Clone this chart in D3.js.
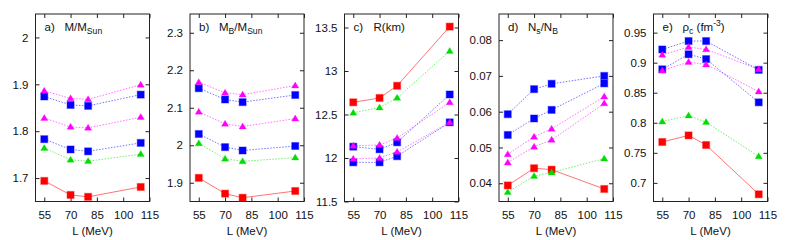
<!DOCTYPE html>
<html><head><meta charset="utf-8">
<script src="https://cdn.jsdelivr.net/npm/d3@7"></script>
<style>body{margin:0;background:#fff}svg{display:block}text{font-family:"Liberation Sans",Arial,sans-serif;fill:#111}</style>
</head><body><svg id="c" width="789" height="240"></svg>
<script>
// x values (L in MeV)
const L = [55, 70, 80, 110];
const xTicks = [55, 70, 85, 100, 115];

// Panel a) M/M_Sun
const aMag1 = [1.886, 1.870, 1.868, 1.899];
const aBlue1 = [1.874, 1.856, 1.854, 1.878];
const aMag2 = [1.828, 1.809, 1.807, 1.830];
const aBlue2 = [1.783, 1.761, 1.757, 1.775];
const aGreen = [1.764, 1.739, 1.736, 1.751];
const aRed = [1.694, 1.664, 1.660, 1.681];
const aTicks = [1.7, 1.8, 1.9, 2];
const aTickLabels = ["1.7", "1.8", "1.9", "2"];

// Panel b) M_B/M_Sun
const bMag1 = [2.168, 2.140, 2.135, 2.159];
const bBlue1 = [2.152, 2.122, 2.115, 2.134];
const bMag2 = [2.089, 2.057, 2.050, 2.071];
const bBlue2 = [2.030, 1.995, 1.986, 1.998];
const bGreen = [2.005, 1.964, 1.957, 1.967];
const bRed = [1.913, 1.871, 1.860, 1.878];
const bTicks = [1.9, 2.0, 2.1, 2.2, 2.3];
const bTickLabels = ["1.9", "2", "2.1", "2.2", "2.3"];

// Panel c) R(km)
const cRed = [12.64, 12.69, 12.83, 13.51];
const cGreen = [12.52, 12.58, 12.69, 13.23];
const cBlue1 = [12.13, 12.10, 12.18, 12.73];
const cMag1 = [12.14, 12.15, 12.23, 12.64];
const cBlue2 = [11.95, 11.95, 12.02, 12.41];
const cMag2 = [11.99, 12.00, 12.07, 12.41];
const cTicks = [11.5, 12, 12.5, 13, 13.5];
const cTickLabels = ["11.5", "12", "12.5", "13", "13.5"];

// Panel d) N_s/N_B
const dBlue1 = [0.0593, 0.0663, 0.0678, 0.0700];
const dBlue2 = [0.0535, 0.0581, 0.0605, 0.0679];
const dMag1 = [0.0481, 0.0530, 0.0552, 0.0642];
const dMag2 = [0.0458, 0.0502, 0.0521, 0.0623];
const dRed = [0.0394, 0.0442, 0.0438, 0.0384];
const dGreen = [0.0375, 0.0420, 0.0430, 0.0469];
const dTicks = [0.04, 0.05, 0.06, 0.07, 0.08];
const dTickLabels = ["0.04", "0.05", "0.06", "0.07", "0.08"];

// Panel e) rho_c (fm^-3)
const eBlue1 = [0.922, 0.936, 0.936, 0.888];
const eBlue2 = [0.889, 0.914, 0.906, 0.834];
const eMag1 = [0.913, 0.926, 0.922, 0.889];
const eMag2 = [0.887, 0.901, 0.897, 0.852];
const eGreen = [0.802, 0.812, 0.801, 0.744];
const eRed = [0.768, 0.779, 0.763, 0.681];
const eTicks = [0.7, 0.75, 0.8, 0.85, 0.9, 0.95];
const eTickLabels = ["0.7", "0.75", "0.8", "0.85", "0.9", "0.95"];

const COL = {red: "#ff0000", green: "#00dd00", blue: "#0000ff", mag: "#ff00ff"};

const panels = [
  {id: "a)", domain: [1.65, 2.05], ticks: aTicks, labels: aTickLabels, title: [["M/M", 0], ["Sun", 1]],
   series: [["red", "sq", aRed], ["green", "tri", aGreen], ["blue", "sq", aBlue2], ["mag", "tri", aMag2], ["blue", "sq", aBlue1], ["mag", "tri", aMag1]]},
  {id: "b)", domain: [1.85, 2.35], ticks: bTicks, labels: bTickLabels, title: [["M", 0], ["B", 1], ["/M", 0], ["Sun", 1]],
   series: [["red", "sq", bRed], ["green", "tri", bGreen], ["blue", "sq", bBlue2], ["mag", "tri", bMag2], ["blue", "sq", bBlue1], ["mag", "tri", bMag1]]},
  {id: "c)", domain: [11.5, 13.655], ticks: cTicks, labels: cTickLabels, title: [["R(km)", 0]],
   series: [["red", "sq", cRed], ["green", "tri", cGreen], ["blue", "sq", cBlue2], ["mag", "tri", cMag2], ["blue", "sq", cBlue1], ["mag", "tri", cMag1]]},
  {id: "d)", domain: [0.0349, 0.0873], ticks: dTicks, labels: dTickLabels, title: [["N", 0], ["s", 1], ["/N", 0], ["B", 1]],
   series: [["red", "sq", dRed], ["green", "tri", dGreen], ["blue", "sq", dBlue2], ["mag", "tri", dMag2], ["blue", "sq", dBlue1], ["mag", "tri", dMag1]]},
  {id: "e)", domain: [0.669, 0.981], ticks: eTicks, labels: eTickLabels, title: [["ρ", 0], ["c", 1], [" (fm", 0], ["-3", 2], [")", 0]],
   series: [["red", "sq", eRed], ["green", "tri", eGreen], ["blue", "sq", eBlue2], ["mag", "tri", eMag2], ["blue", "sq", eBlue1], ["mag", "tri", eMag1]]}
];

const svg = d3.select("#c");
const plotTop = 14, plotBottom = 201.5, W = 114, pitch = 154.5, left0 = 35.5;
const FS = 11.5;

panels.forEach((p, i) => {
  const x0 = left0 + i * pitch;
  const x = d3.scaleLinear().domain([50, 115]).range([x0, x0 + W]);
  const y = d3.scaleLinear().domain(p.domain).range([plotBottom, plotTop]);
  const g = svg.append("g");

  g.append("rect").attr("x", x0).attr("y", plotTop).attr("width", W).attr("height", plotBottom - plotTop)
    .attr("fill", "none").attr("stroke", "#222").attr("stroke-width", 1);

  const yl = g.append("g").attr("transform", `translate(${x0},0)`)
    .call(d3.axisLeft(y).tickValues(p.ticks).tickSize(-4).tickPadding(7).tickFormat((d, k) => p.labels[k]));
  const yr = g.append("g").attr("transform", `translate(${x0 + W},0)`)
    .call(d3.axisRight(y).tickValues(p.ticks).tickSize(-4).tickFormat(""));
  const xb = g.append("g").attr("transform", `translate(0,${plotBottom})`)
    .call(d3.axisBottom(x).tickValues(xTicks).tickSize(-4).tickPadding(9).tickFormat(d3.format("d")));
  const xt = g.append("g").attr("transform", `translate(0,${plotTop})`)
    .call(d3.axisTop(x).tickValues(xTicks).tickSize(-4).tickFormat(""));
  [yl, yr, xb, xt].forEach(a => {
    a.select(".domain").remove();
    a.selectAll("line").attr("stroke", "#222");
    a.selectAll("text").attr("font-size", FS).attr("fill", "#111").style("font-family", '"Liberation Sans",Arial,sans-serif');
  });

  g.append("text").attr("x", x0 + W / 2).attr("y", 234.5).attr("text-anchor", "middle")
    .attr("font-size", FS).text("L (MeV)");

  g.append("text").attr("x", x0 + 9).attr("y", 31).attr("font-size", FS).text(p.id);
  const t = g.append("text").attr("x", x0 + 29).attr("y", 31).attr("font-size", FS);
  let shift = 0;
  p.title.forEach(([s, k]) => {
    const ts = t.append("tspan").text(s);
    const target = k === 1 ? 3 : k === 2 ? -5 : 0;
    if (k) ts.attr("font-size", FS * 0.75);
    ts.attr("dy", target - shift);
    shift = target;
  });

  const line = d3.line().x((d, k) => x(L[k])).y(d => y(d));
  p.series.forEach(([c, m, vals]) => {
    const col = COL[c];
    g.append("path").datum(vals).attr("d", line).attr("fill", "none")
      .attr("stroke", col).attr("stroke-opacity", 0.55).attr("stroke-width", 1)
      .attr("stroke-dasharray", c === "red" ? null : "1.5,1.5");
    vals.forEach((v, k) => {
      const cx = x(L[k]), cy = y(v);
      if (m === "sq") {
        g.append("rect").attr("x", cx - 3.5).attr("y", cy - 3.5).attr("width", 7).attr("height", 7)
          .attr("fill", col).attr("stroke", col).attr("stroke-opacity", 0.35).attr("stroke-width", 1.2);
      } else {
        g.append("path").attr("d", `M${cx},${cy - 3.6}L${cx + 3.6},${cy + 2.4}L${cx - 3.6},${cy + 2.4}Z`)
          .attr("fill", col).attr("stroke", col).attr("stroke-opacity", 0.35).attr("stroke-width", 0.8);
      }
    });
  });
});
</script></body></html>
